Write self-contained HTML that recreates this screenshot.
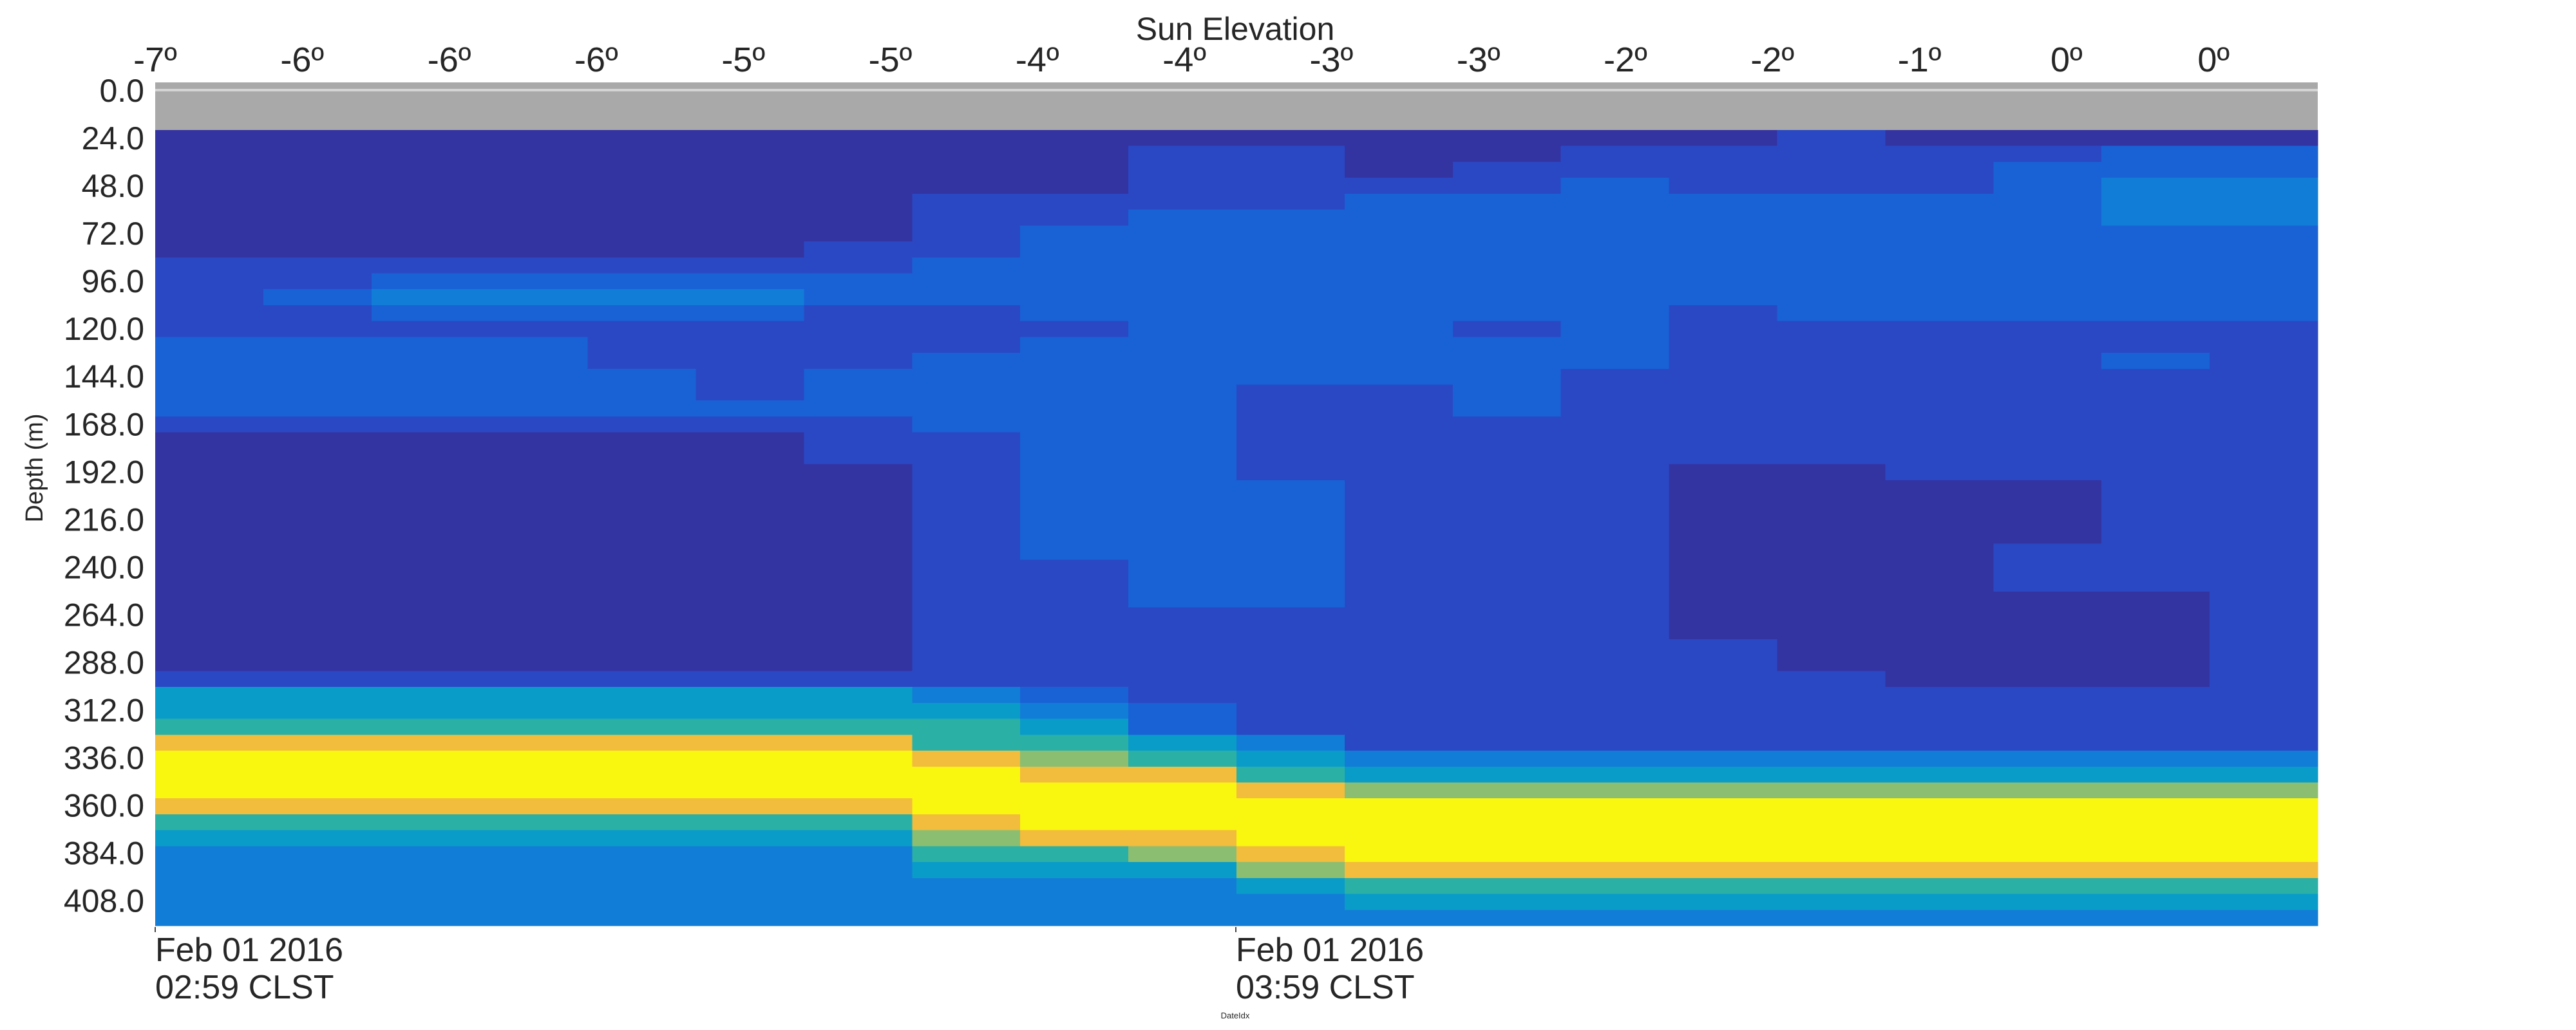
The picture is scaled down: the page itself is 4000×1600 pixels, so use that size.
<!DOCTYPE html>
<html><head><meta charset="utf-8">
<style>
html,body{margin:0;padding:0;background:#fff;}
svg{display:block;font-family:"Liberation Sans",Arial,sans-serif;}
</style></head>
<body>
<svg id="chart" width="4000" height="1600" viewBox="0 0 4000 1600" xmlns="http://www.w3.org/2000/svg">
<g id="heat"></g>
<g id="axes"></g>
</svg>
<script>
// ---- data ----
const elevationLabels = ["-7º","-6º","-6º","-6º","-5º","-5º","-4º","-4º","-3º","-3º","-2º","-2º","-1º","0º","0º"];
const depthTicks = [0,24,48,72,96,120,144,168,192,216,240,264,288,312,336,360,384,408];
const dateTicks = [0, 60];
const dateLabels1 = ["Feb 01 2016","Feb 01 2016"];
const dateLabels2 = ["02:59 CLST","03:59 CLST"];
const levelColors = ["#352a87","#3433a2","#2a48c4","#1862d6","#127dd6","#0a9cc9","#2bb0a5","#8cbe72","#f2bc3c","#f9f610"];
const levelRows = [
"11111111111111121111",
"11111111122112222233",
"11111111122122222333",
"11111111122223222344",
"11111112222333333344",
"11111112233333333344",
"11111112333333333333",
"11111122333333333333",
"22222223333333333333",
"22333333333333333333",
"23444433333333333333",
"22333322333333233333",
"22222222233323222222",
"33332222333333222222",
"33332223333333222232",
"33333233333332222222",
"33333233332232222222",
"33333333332232222222",
"22222223332222222222",
"11111122332222222222",
"11111122332222222222",
"11111112332222112222",
"11111112333222111122",
"11111112333222111122",
"11111112333222111122",
"11111112333222111122",
"11111112333222111222",
"11111112233222111222",
"11111112233222111222",
"11111112233222111112",
"11111112222222111112",
"11111112222222111112",
"11111112222222211112",
"11111112222222211112",
"22222222222222221112",
"55555554322222222222",
"55555555432222222222",
"66666666532222222222",
"88888886654222222222",
"99999998765444444444",
"99999999886555555555",
"99999999998777777777",
"88888889999999999999",
"66666668999999999999",
"55555557889999999999",
"44444446678999999999",
"44444445557888888888",
"44444444445666666666",
"44444444444555555555",
"44444444444444444444"
];
// ---- layout ----
const L=241, R=3599, T=128, B=1438, dataTop=202;
const NS="http://www.w3.org/2000/svg";
function mk(tag, attrs, parent){const e=document.createElementNS(NS,tag);for(const k in attrs)e.setAttribute(k,attrs[k]);parent.appendChild(e);return e;}
const yOfDepth = d => 140 + d*3.085;
const nCols = levelRows[0].length, nRows = levelRows.length;
const xCol = c => L + c*(R-L)/nCols;
const yRow = r => dataTop + r*(B-dataTop)/nRows;
const xElev = i => L + i*228.3;
const xTime = m => L + m*(1919-L)/60;
const heat=document.getElementById('heat'), axes=document.getElementById('axes');

const band = mk('rect',{x:L,y:T,width:R-L,height:dataTop-T,fill:"#a9a9a9"},heat);


const zl = mk('line',{x1:L,x2:R,y1:140,y2:140,stroke:"#d4d4d4","stroke-width":4},heat);



for(let r=0;r<nRows;r++){
  for(let c=0;c<nCols;c++){
    const v=+levelRows[r][c];
    const cell=mk('rect',{x:xCol(c),y:yRow(r),width:(R-L)/nCols+0.6,height:(B-dataTop)/nRows+0.6,fill:levelColors[v],'shape-rendering':'crispEdges'},heat);
    
    
  }
}

const tt=mk('text',{x:1918,y:62,'font-size':50,'text-anchor':'middle',fill:"#262626"},axes);
tt.textContent="Sun Elevation";


elevationLabels.forEach((lab,i)=>{
  const t=mk('text',{x:xElev(i),y:111,'font-size':54,'text-anchor':'middle',fill:"#262626"},axes);
  t.textContent=lab;
  
  
});
depthTicks.forEach(d=>{
  const t=mk('text',{x:224,y:yOfDepth(d)+18,'font-size':50,'text-anchor':'end',fill:"#262626"},axes);
  t.textContent=d.toFixed(1);
  
  
});
const yt=mk('text',{x:0,y:0,'font-size':38,'text-anchor':'middle',fill:"#262626",transform:"translate(66,727) rotate(-90)"},axes);
yt.textContent="Depth (m)";


dateTicks.forEach((m,i)=>{
  const x=xTime(m);
  const tk=mk('line',{x1:x,x2:x,y1:1440,y2:1448,stroke:"#444","stroke-width":2},axes);
  
  
  const a=mk('text',{x:x,y:1493,'font-size':52,fill:"#262626"},axes);
  a.textContent=dateLabels1[i];
  
  
  const b=mk('text',{x:x,y:1551,'font-size':52,fill:"#262626"},axes);
  b.textContent=dateLabels2[i];
  
  
});
const xt=mk('text',{x:1918,y:1582,'font-size':13,'text-anchor':'middle',fill:"#262626"},axes);
xt.textContent="DateIdx";


</script>
</body></html>
